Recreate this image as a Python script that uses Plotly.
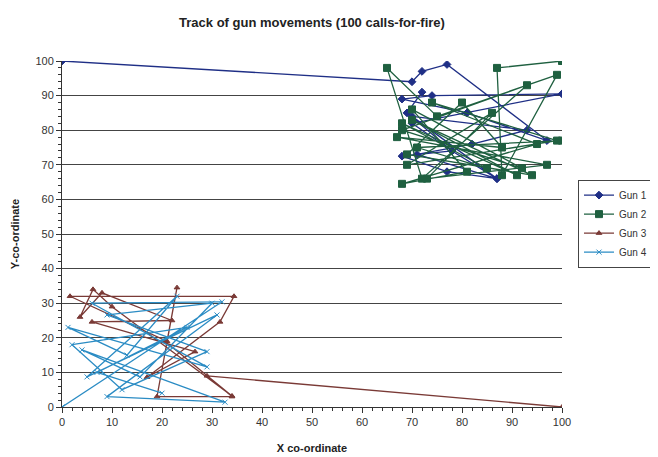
import plotly.graph_objects as go

# Gun 1 (starts top-left)
gun1_x = [0, 70, 72, 77, 97, 81, 68, 74, 100, 70, 78, 68, 77, 87, 70, 93, 82, 71, 87, 78, 69, 72]
gun1_y = [100, 94, 97, 99, 77, 85, 89, 90, 90.5, 82, 74, 72.5, 68, 66, 84, 80, 76, 73, 66, 74, 85, 91]

# Gun 2 (starts top-right)
gun2_x = [100, 87, 88, 99, 75, 65, 72, 93, 68, 92, 70, 81, 68, 95, 74, 99, 69, 86, 73, 97, 67, 88, 80, 69, 94, 70, 91, 68, 85, 71, 100]
gun2_y = [100, 98, 67, 96, 84, 98, 66, 93, 80, 69, 86, 68, 64.5, 76, 88, 77, 70, 85, 66, 70, 78, 75, 88, 73, 67, 83, 67, 82, 69, 75, 77]

# Gun 3 (starts bottom-right)
gun3_x = [100, 29, 34, 19, 23, 21, 1.6, 34.4, 31.6, 17, 26.6, 6, 22, 8, 3.6, 6.2, 10, 34, 20.6]
gun3_y = [0, 9, 3, 3, 34.5, 19, 32, 32, 24.6, 8.6, 16, 24.6, 25, 33, 26, 34, 29, 3.2, 19]

# Gun 4 (starts bottom-left)
gun4_x = [0, 32, 6, 29, 1.2, 13, 23, 5, 31, 9, 32.6, 4, 15.6, 30, 9, 29, 12, 2, 25, 7, 20]
gun4_y = [0, 30.4, 30, 11.6, 23, 15, 32, 8.7, 26.6, 3, 1.4, 16.5, 8.7, 30, 26.6, 16, 5, 18, 23, 10, 4]

names = ["Gun 1", "Gun 2", "Gun 3", "Gun 4"]
xs = [gun1_x, gun2_x, gun3_x, gun4_x]
ys = [gun1_y, gun2_y, gun3_y, gun4_y]
colors = ["#1f2f86", "#1f6040", "#7a3a36", "#2b8cc4"]
symbols = ["diamond", "square", "triangle-up", "x-thin"]
sizes = [6, 7, 5, 5]

fig = go.Figure()
for n, x, y, c, s, sz in zip(names, xs, ys, colors, symbols, sizes):
    fig.add_trace(go.Scatter(
        x=x, y=y, name=n, mode="lines+markers",
        line=dict(color=c, width=1.3),
        marker=dict(symbol=s, size=sz, color=c, line=dict(color=c, width=1)),
    ))

fnt = "Liberation Sans, Arial, sans-serif"
fig.update_layout(
    width=650, height=449,
    margin=dict(l=54, r=96, t=53, b=50, autoexpand=False),
    paper_bgcolor="white", plot_bgcolor="white",
    font=dict(family=fnt, size=11, color="#333333"),
    title=dict(text="<b>Track of gun movements (100 calls-for-fire)</b>",
               x=(312 - 8) / 650, xanchor="center", y=1 - 14 / 449, yanchor="middle",
               font=dict(size=13, color="#222222"), automargin=False),
    legend=dict(x=(645 - 54) / 500, y=0.53, xanchor="right", yanchor="middle",
                bordercolor="#444444", borderwidth=1, bgcolor="white",
                font=dict(size=10, color="#333333"), itemwidth=30,
                tracegroupgap=3),
    showlegend=True,
)
fig.update_xaxes(
    range=[0, 100], dtick=10, showgrid=False, zeroline=False, automargin=False,
    showline=True, linecolor="#333333", linewidth=1,
    ticks="outside", ticklen=5, tickcolor="#333333",
    minor=dict(dtick=2, ticks="outside", ticklen=3, tickcolor="#333333", showgrid=False),
    title=dict(text="<b>X co-ordinate</b>", font=dict(size=11, color="#222222"), standoff=17),
)
fig.update_yaxes(
    range=[0, 100], dtick=10, showgrid=True, gridcolor="#444444", gridwidth=1,
    zeroline=False, showline=True, linecolor="#333333", linewidth=1, automargin=False,
    ticks="outside", ticklen=5, tickcolor="#333333",
    minor=dict(dtick=2, ticks="outside", ticklen=3, tickcolor="#333333", showgrid=False),
    title=dict(text="<b>Y-co-ordinate</b>", font=dict(size=11, color="#222222"), standoff=13),
)
fig.write_html("out.html")
